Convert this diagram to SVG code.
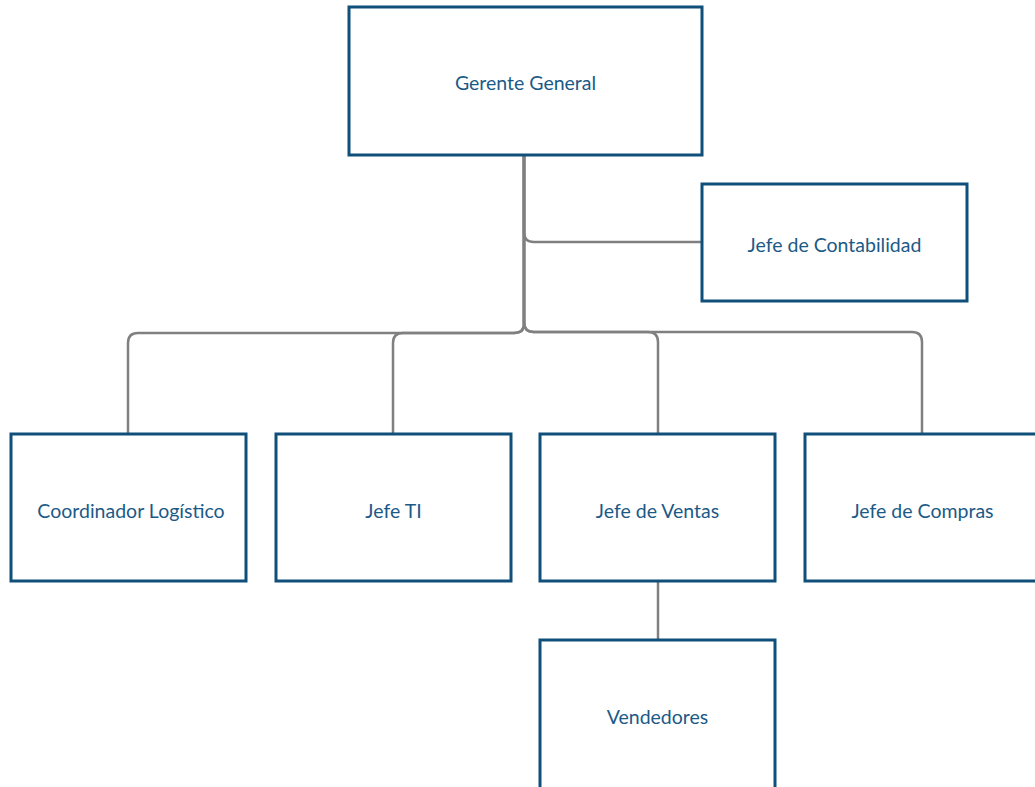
<svg xmlns="http://www.w3.org/2000/svg" width="1035" height="787" viewBox="0 0 1035 787">
<style>
.box{fill:#ffffff;stroke:#0f4f7a;stroke-width:3}
.lbl{font-family:Lato,"Liberation Sans",sans-serif;font-size:19.5px;fill:#1b5a87;text-anchor:middle;dominant-baseline:central}
.con{fill:none;stroke:#808080;stroke-width:2.5}
</style>
<rect width="1035" height="787" fill="#ffffff"/>
<g id="connectors">
<path class="con" d="M524,155 V232 Q524,242 534,242 H702"/>
<path class="con" d="M524,155 V324 Q524,333 514,333 H138 Q128,333 128,343 V434"/>
<path class="con" d="M524,155 V324 Q524,333 514,333 H403 Q393,333 393,343 V434"/>
<path class="con" d="M524,155 V322 Q524,332 534,332 H648 Q658,332 658,342 V434"/>
<path class="con" d="M524,155 V322 Q524,332 534,332 H912 Q922,332 922,342 V434"/>
<path class="con" d="M524,155 V325" stroke-width="4"/>
<path class="con" d="M658,581 V640"/>
</g>
<g id="gerente"><rect class="box" x="349" y="7" width="353" height="148"/><text class="lbl" x="525.5" y="82">Gerente General</text></g>
<g id="contabilidad"><rect class="box" x="702" y="184" width="265" height="117"/><text class="lbl" x="834.5" y="244">Jefe de Contabilidad</text></g>
<g id="logistico"><rect class="box" x="11" y="434" width="235" height="147"/><text class="lbl" x="131" y="510">Coordinador Logístico</text></g>
<g id="ti"><rect class="box" x="276" y="434" width="235" height="147"/><text class="lbl" x="393.5" y="510">Jefe TI</text></g>
<g id="ventas"><rect class="box" x="540" y="434" width="235" height="147"/><text class="lbl" x="657.5" y="510">Jefe de Ventas</text></g>
<g id="compras"><rect class="box" x="805" y="434" width="240" height="147"/><text class="lbl" x="922.5" y="510">Jefe de Compras</text></g>
<g id="vendedores"><rect class="box" x="540" y="640" width="235" height="160"/><text class="lbl" x="657.5" y="716">Vendedores</text></g>
</svg>
